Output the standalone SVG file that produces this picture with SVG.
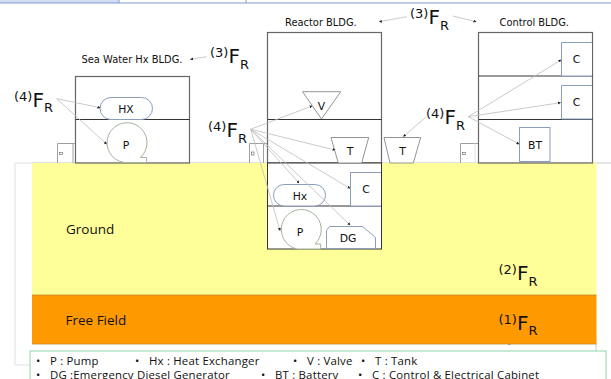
<svg xmlns="http://www.w3.org/2000/svg" width="611" height="379" viewBox="0 0 611 379">
<style>
text{font-family:"DejaVu Sans",sans-serif;fill:#111}
.b{fill:none;stroke:#666;stroke-width:1.2}
.f{stroke:#333;stroke-width:1;fill:none}
.g{fill:#fff;stroke:#949494;stroke-width:1}
.bl{fill:#fff;stroke:#8a9dbd;stroke-width:1}
.gr{fill:#fff;stroke:#a3b39b;stroke-width:1}
.c{stroke:#bcbcbc;stroke-width:.8;fill:none;marker-end:url(#m)}
.l{font-size:9.9px}
.n{font-size:10.8px;text-anchor:middle}
.s{font-family:"Open Sans",sans-serif;font-size:13.5px}
.lg{font-family:"Open Sans",sans-serif;font-size:11.4px;letter-spacing:.2px}
.fr{font-size:20px}.sup{font-size:13px}.sub{font-size:13px}
</style>
<defs>
<marker id="m" markerWidth="3" markerHeight="3" refX="2.5" refY="1.5" orient="auto" markerUnits="userSpaceOnUse"><path d="M0 0L3 1.500L0 3Z" fill="#222"/></marker>
</defs>
<g id="top-strip">
<rect x="0" y="0" width="119" height="3" fill="#cfdcf2"/>
<path d="M0 3H611M119 0V3M246 0V3" stroke="#7f9bd4" stroke-width="1" fill="none"/>
</g>
<g id="site-frame">
<path d="M32 163H15V365H30" fill="none" stroke="#e0e0e0" stroke-width="1"/>
<path d="M32 163H611M596 344V351" fill="none" stroke="#c8c8c8" stroke-width="1"/>
</g>
<g id="ground"><rect x="32" y="163" width="564.500" height="132" fill="#ffff99"/><text class="s" x="66" y="234">Ground</text></g>
<g id="free-field"><rect x="32" y="295" width="564.500" height="49" fill="#ff9900"/><path d="M32 295H596.500M32 344H596.500" stroke="#c58a28" stroke-width=".8"/><text class="s" x="65.500" y="325">Free Field</text></g>
<g id="sea-bldg">
<rect class="b" x="75.500" y="76.500" width="114" height="86.500"/>
<path class="f" d="M75.500 119.500H189.500"/>
<path d="M57.500 163V143.500H75M73 143.500V163" fill="none" stroke="#a0a0a0"/>
<rect x="59.500" y="152.500" width="3" height="2" fill="none" stroke="#777" stroke-width=".7"/>
<text class="l" x="81.500" y="63">Sea Water Hx BLDG.</text>
</g>
<g id="hx-sea"><rect class="bl" x="100" y="97.500" width="52.500" height="22" rx="11"/><text class="n" x="126" y="112.500">HX</text></g>
<g id="p-sea"><path class="gr" d="M124 162.500A20 20 0 1 1 140.500 157.500H146.700V162.500Z"/><text class="n" x="126" y="149">P</text></g>
<g id="reactor-bldg">
<rect class="b" x="267.500" y="32.500" width="114" height="130.500"/>
<path class="f" d="M267.500 119.500H381.500"/>
<path d="M249.500 163V143.500H267M263.500 143.500V163" fill="none" stroke="#a0a0a0"/>
<rect x="251.500" y="152" width="2.500" height="3" fill="none" stroke="#777" stroke-width=".7"/>
<rect x="267.500" y="163" width="114" height="86" fill="#fff" stroke="#333" stroke-width="1"/>
<path class="f" d="M267.500 206H381.500"/>
<text class="l" x="285" y="26">Reactor BLDG.</text>
</g>
<g id="v"><path class="g" d="M302.500 91.700H340.700L321.500 119Z"/><text class="n" x="321.500" y="110">V</text></g>
<g id="t-inner"><path class="g" d="M331 137.500H368.700L361.700 163H338.300Z"/><text class="n" x="350" y="155">T</text></g>
<g id="t-outer"><path class="g" d="M384 137.500H420.700L413.300 163H390Z"/><text class="n" x="402.500" y="155">T</text></g>
<g id="hx-reactor"><rect class="bl" x="273.500" y="184.500" width="52" height="21.500" rx="10.700"/><text class="n" x="300" y="200">Hx</text></g>
<g id="c-reactor"><path class="bl" d="M381 172.500H350.500V206H381"/><text class="n" x="366" y="193">C</text></g>
<g id="p-reactor"><path class="gr" d="M297 249A20 20 0 1 1 315 244H320.700V249Z"/><text class="n" x="300" y="236">P</text></g>
<g id="dg"><path class="bl" d="M326.500 248.500V230.500L329.500 226.500H362.500L375.500 237.500V248.500Z"/><text class="n" x="348" y="242">DG</text></g>
<g id="control-bldg">
<rect class="b" x="478.500" y="32.500" width="114" height="130.500"/>
<path class="f" d="M478.500 76H592.500M478.500 119.500H592.500"/>
<path d="M460.500 163V143.500H478" fill="none" stroke="#a0a0a0"/>
<path d="M475 143.500V163" stroke="#e4e4e4"/>
<rect x="462.500" y="152.500" width="3" height="2" fill="none" stroke="#777" stroke-width=".7"/>
<text class="l" x="499.500" y="26">Control BLDG.</text>
</g>
<g id="c-top"><path class="bl" d="M592 42.500H561.500V76H592"/><text class="n" x="576.500" y="63">C</text></g>
<g id="c-mid"><path class="bl" d="M592 85.500H561.500V119H592"/><text class="n" x="576.500" y="106">C</text></g>
<g id="bt"><rect class="bl" x="519.500" y="127.500" width="30.500" height="34"/><text class="n" x="535" y="149">BT</text></g>
<g id="connectors">
<path class="c" d="M56.700 98.700L100 107.700"/>
<path class="c" d="M56.700 98.700L106.500 144"/>
<path class="c" d="M206.700 56.700L190.500 59.300"/>
<path class="c" d="M407 16.700L379.300 21.700"/>
<path class="c" d="M452.700 16L476 21.700"/>
<path class="c" d="M250.700 129.300L312 106"/>
<path class="c" d="M250.700 129.300L335 150"/>
<path class="c" d="M250.700 129.300L280 230.500"/>
<path class="c" d="M250.700 129.300L299 183"/>
<path class="c" d="M250.700 129.300L350 188.300"/>
<path class="c" d="M250.700 129.300L350 225"/>
<path class="c" d="M426 117L403.500 136.500"/>
<path class="c" d="M468.300 116.700L561 60"/>
<path class="c" d="M468.300 116.700L560.500 102.700"/>
<path class="c" d="M468.300 116.700L519 144"/>
<path d="M508 344.500H510.500" stroke="#999" stroke-width="1"/>
</g>
<g id="fr-labels">
<text x="14" y="106.500"><tspan class="sup" dy="-6">(4)</tspan><tspan class="fr" dy="6">F</tspan><tspan class="sub" dy="5">R</tspan></text>
<text x="210" y="63.300"><tspan class="sup" dy="-6">(3)</tspan><tspan class="fr" dy="6">F</tspan><tspan class="sub" dy="5.500">R</tspan></text>
<text x="208" y="137"><tspan class="sup" dy="-6">(4)</tspan><tspan class="fr" dy="6">F</tspan><tspan class="sub" dy="5.500">R</tspan></text>
<text x="410" y="24"><tspan class="sup" dy="-6">(3)</tspan><tspan class="fr" dy="6">F</tspan><tspan class="sub" dy="5.500">R</tspan></text>
<text x="426" y="124"><tspan class="sup" dy="-6">(4)</tspan><tspan class="fr" dy="6">F</tspan><tspan class="sub" dy="5.500">R</tspan></text>
<text x="498.500" y="280"><tspan class="sup" dy="-6">(2)</tspan><tspan class="fr" dy="6">F</tspan><tspan class="sub" dy="5.500">R</tspan></text>
<text x="498.500" y="329.500"><tspan class="sup" dy="-6">(1)</tspan><tspan class="fr" dy="6">F</tspan><tspan class="sub" dy="5.500">R</tspan></text>
</g>
<g id="legend">
<rect x="30" y="351" width="576" height="40" fill="#fff" stroke="#8fd4ae" stroke-width="1"/>
<text class="lg" y="364.500"><tspan x="36">•</tspan><tspan x="50">P : Pump</tspan><tspan x="135">•</tspan><tspan x="149">Hx : Heat Exchanger</tspan><tspan x="293">•</tspan><tspan x="307">V : Valve</tspan><tspan x="361">•</tspan><tspan x="375">T : Tank</tspan></text>
<text class="lg" y="378.500"><tspan x="36">•</tspan><tspan x="50">DG :Emergency Diesel Generator</tspan><tspan x="261">•</tspan><tspan x="275">BT : Battery</tspan><tspan x="358">•</tspan><tspan x="372">C : Control &amp; Electrical Cabinet</tspan></text>
</g>
</svg>
